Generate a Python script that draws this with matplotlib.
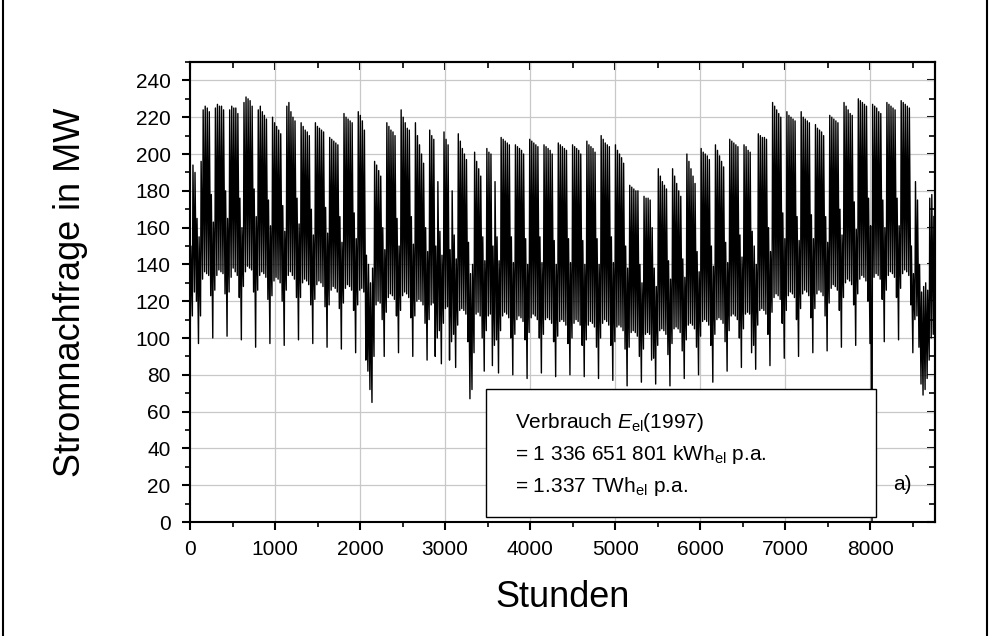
import numpy as np
import matplotlib
matplotlib.use('Agg')
import matplotlib.pyplot as plt
from matplotlib.lines import Line2D
from matplotlib.patches import Rectangle
from matplotlib.ticker import MultipleLocator

plt.rcParams['font.family'] = ['Liberation Sans', 'DejaVu Sans']
plt.rcParams['mathtext.fontset'] = 'custom'
plt.rcParams['mathtext.rm'] = 'Liberation Sans'
plt.rcParams['mathtext.it'] = 'Liberation Sans:italic'

# Stromnachfrage 1997, read off the chart as daily maximum / daily minimum in MW
# 1 Jan 1997 = Wednesday; first row Wed..Sun, then one row per week Mon..Sun
start_load = 110

daily_peak_rows = [
    [150, 194, 190, 165, 155],
    [196, 224, 226, 225, 223, 178, 163],
    [225, 227, 226, 226, 224, 180, 165],
    [224, 226, 225, 225, 222, 176, 160],
    [228, 231, 230, 229, 226, 181, 166],
    [224, 226, 223, 221, 219, 175, 161],
    [220, 217, 215, 213, 211, 172, 158],
    [226, 228, 223, 220, 218, 176, 162],
    [217, 215, 213, 212, 210, 170, 156],
    [217, 215, 214, 213, 212, 171, 157],
    [209, 208, 207, 206, 205, 166, 152],
    [222, 220, 219, 218, 217, 168, 154],
    [223, 221, 218, 213, 145, 140, 130],
    [138, 196, 194, 191, 188, 160, 148],
    [217, 215, 213, 212, 210, 165, 150],
    [224, 220, 217, 214, 213, 166, 151],
    [217, 210, 205, 200, 195, 160, 147],
    [213, 210, 208, 150, 185, 158, 145],
    [212, 208, 205, 148, 180, 156, 143],
    [211, 207, 203, 200, 197, 152, 135],
    [140, 201, 196, 192, 188, 155, 142],
    [203, 201, 200, 150, 185, 155, 142],
    [209, 208, 207, 206, 205, 155, 141],
    [205, 204, 203, 202, 200, 154, 140],
    [208, 207, 206, 205, 204, 155, 141],
    [205, 204, 203, 202, 200, 153, 140],
    [206, 205, 204, 203, 202, 154, 141],
    [205, 204, 203, 202, 200, 153, 140],
    [207, 205, 204, 203, 201, 154, 140],
    [210, 208, 206, 205, 204, 155, 141],
    [205, 202, 200, 198, 195, 150, 138],
    [183, 182, 181, 180, 180, 140, 130],
    [177, 176, 176, 175, 160, 138, 128],
    [192, 188, 185, 183, 181, 142, 132],
    [192, 188, 184, 180, 177, 143, 133],
    [200, 196, 192, 188, 184, 147, 136],
    [203, 201, 200, 199, 197, 150, 139],
    [205, 202, 199, 196, 193, 152, 141],
    [208, 207, 206, 205, 204, 156, 144],
    [205, 204, 202, 201, 158, 150, 140],
    [211, 210, 209, 209, 208, 160, 147],
    [228, 226, 224, 222, 220, 168, 154],
    [223, 221, 220, 219, 218, 166, 153],
    [223, 220, 219, 218, 217, 167, 154],
    [216, 214, 213, 212, 210, 166, 152],
    [221, 220, 219, 218, 217, 170, 156],
    [228, 226, 224, 222, 221, 174, 159],
    [230, 229, 228, 227, 226, 176, 161],
    [227, 226, 225, 223, 222, 175, 160],
    [228, 227, 226, 225, 224, 176, 161],
    [229, 228, 227, 226, 225, 150, 135],
    [185, 175, 140, 125, 128, 130, 126],
    [176, 178, 166],
]

daily_low_rows = [
    [108, 112, 125, 120, 97],
    [112, 132, 136, 135, 134, 123, 100],
    [126, 134, 137, 136, 135, 124, 101],
    [125, 133, 138, 136, 134, 122, 99],
    [128, 136, 139, 138, 137, 125, 95],
    [126, 134, 136, 135, 133, 121, 97],
    [123, 131, 133, 132, 130, 120, 96],
    [126, 134, 136, 134, 132, 122, 99],
    [122, 130, 132, 131, 129, 118, 97],
    [121, 129, 131, 130, 128, 117, 95],
    [118, 126, 128, 127, 125, 116, 94],
    [119, 127, 129, 128, 126, 115, 92],
    [118, 126, 127, 125, 88, 82, 72],
    [65, 90, 118, 120, 119, 110, 90],
    [114, 122, 124, 123, 121, 112, 92],
    [115, 123, 125, 124, 122, 111, 90],
    [112, 120, 121, 120, 118, 108, 88],
    [110, 118, 119, 90, 100, 104, 86],
    [108, 116, 117, 88, 98, 102, 84],
    [107, 115, 116, 115, 113, 98, 67],
    [72, 92, 113, 114, 112, 100, 82],
    [104, 112, 113, 85, 96, 99, 81],
    [104, 112, 114, 113, 111, 100, 80],
    [102, 110, 112, 111, 109, 99, 78],
    [103, 111, 113, 112, 110, 100, 81],
    [102, 110, 111, 110, 108, 98, 79],
    [101, 109, 110, 109, 107, 97, 80],
    [100, 108, 110, 109, 107, 96, 79],
    [99, 107, 109, 108, 106, 95, 78],
    [100, 108, 110, 109, 107, 96, 77],
    [98, 106, 107, 106, 104, 94, 74],
    [95, 103, 104, 103, 101, 90, 76],
    [94, 102, 103, 102, 88, 89, 75],
    [96, 104, 105, 104, 102, 91, 74],
    [97, 105, 106, 105, 103, 93, 78],
    [99, 107, 108, 107, 105, 95, 80],
    [101, 109, 110, 109, 107, 96, 76],
    [102, 110, 111, 110, 108, 98, 82],
    [104, 112, 113, 112, 110, 100, 84],
    [105, 113, 114, 113, 92, 96, 83],
    [107, 115, 116, 115, 113, 102, 85],
    [114, 122, 124, 123, 121, 108, 89],
    [115, 123, 125, 124, 122, 110, 90],
    [116, 124, 126, 125, 123, 111, 92],
    [116, 124, 126, 125, 123, 112, 93],
    [119, 127, 129, 128, 126, 115, 95],
    [122, 130, 132, 131, 129, 118, 96],
    [124, 132, 134, 133, 131, 120, 97],
    [0, 133, 135, 134, 132, 121, 98],
    [126, 134, 136, 135, 133, 122, 99],
    [127, 135, 137, 136, 134, 118, 92],
    [110, 112, 95, 75, 69, 72, 78],
    [88, 100, 102],
]

daily_peak = np.concatenate(daily_peak_rows)
daily_low = np.concatenate(daily_low_rows)

# night minimum early in the day, maximum around noon
day_start = np.arange(len(daily_peak)) * 24
hours = np.concatenate([[0], np.column_stack([day_start + 4, day_start + 11]).ravel()])
load = np.concatenate([[start_load], np.column_stack([daily_low, daily_peak]).ravel()])

fig = plt.figure(figsize=(9.9, 6.36), dpi=100)
ax = fig.add_axes([0.1919, 0.1792, 0.7525, 0.7233])
ax.plot(hours, load, color='black', lw=1.0, zorder=2)

ax.set_xlim(0, 8760)
ax.set_ylim(0, 250)
ax.set_xticks(range(0, 8001, 1000))
ax.set_yticks(range(0, 241, 20))
ax.xaxis.set_minor_locator(MultipleLocator(500))
ax.yaxis.set_minor_locator(MultipleLocator(10))
ax.grid(True, which='major', color='#c8c8c8', lw=0.9)
ax.set_axisbelow(True)
for s in ax.spines.values():
    s.set_linewidth(1.5)
ax.tick_params(which='major', direction='out', length=6, width=1.5, labelsize=15)
ax.tick_params(axis='x', which='major', pad=7)
ax.tick_params(axis='y', which='major', pad=8)
ax.tick_params(which='minor', direction='out', length=3.5, width=1.2)

# top and right axes: ticks pointing inwards, no labels
top = ax.secondary_xaxis('top')
top.set_xticks(range(0, 8001, 1000))
top.xaxis.set_minor_locator(MultipleLocator(500))
top.tick_params(which='both', direction='in', labeltop=False, width=1.5)
top.tick_params(which='major', length=6)
top.tick_params(which='minor', length=4, width=1.2)
right = ax.secondary_yaxis('right')
right.set_yticks(range(0, 241, 20))
right.yaxis.set_minor_locator(MultipleLocator(10))
right.tick_params(which='both', direction='in', labelright=False, width=1.5)
right.tick_params(which='major', length=6)
right.tick_params(which='minor', length=4, width=1.2)
for sec in (top, right):
    for s in sec.spines.values():
        s.set_linewidth(1.5)

ax.set_xlabel('Stunden', fontsize=26, va='baseline')
ax.xaxis.set_label_coords(0.5, -0.184)
ax.set_ylabel('Stromnachfrage in MW', fontsize=26, va='baseline')
ax.yaxis.set_label_coords(-0.148, 0.5)

# info box
ax.add_patch(Rectangle((0.397, 0.0115), 0.524, 0.277, transform=ax.transAxes,
                       facecolor='white', edgecolor='black', lw=1.0, zorder=3))
box_lines = [r'Verbrauch $E_{\mathrm{el}}$(1997)',
             r'= 1 336 651 801 kWh$_{\mathrm{el}}$ p.a.',
             r'= 1.337 TWh$_{\mathrm{el}}$ p.a.']
for txt, yy in zip(box_lines, [0.2037, 0.1348, 0.0659]):
    ax.text(0.436, yy, txt, transform=ax.transAxes, fontsize=15,
            va='baseline', ha='left', zorder=4)
ax.text(0.944, 0.0696, 'a)', transform=ax.transAxes, fontsize=15,
        va='baseline', ha='left', zorder=4)

# page frame lines left and right
fig.add_artist(Line2D([0.003, 0.003], [0, 1], transform=fig.transFigure, color='black', lw=1.5))
fig.add_artist(Line2D([0.997, 0.997], [0, 1], transform=fig.transFigure, color='black', lw=1.5))

fig.savefig('out.png', dpi=100)
